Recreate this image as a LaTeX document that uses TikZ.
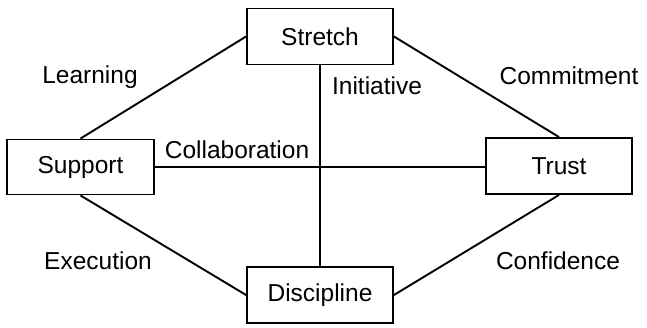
\documentclass[tikz,border=0pt]{standalone}
\usepackage{fontspec}
\setmainfont{Liberation Sans}
\begin{document}
\begin{tikzpicture}[x=1pt,y=-1pt,
  box/.style={draw, line width=1.9pt, minimum width=146pt, minimum height=56pt, inner sep=0pt, font=\fontsize{24.5}{28}\selectfont},
  lbl/.style={font=\fontsize{24.5}{28}\selectfont, inner sep=0pt},
  conn/.style={line width=1.9pt}]
\useasboundingbox (0,0) rectangle (647,327);
\node[box] (stretch) at (320,36.5) {Stretch};
\node[box, minimum width=147pt, minimum height=55pt] (support) at (80.5,167) {Support};
\node[box] (trust) at (559,166) {Trust};
\node[box] (discipline) at (320,295) {Discipline};
\draw[conn] (stretch.west) -- (support.north);
\draw[conn] (stretch.east) -- (trust.north);
\draw[conn] (support.south) -- (discipline.west);
\draw[conn] (trust.south) -- (discipline.east);
\draw[conn] (stretch.south) -- (discipline.north);
\draw[conn] (support.east) -- (trust.west |- support.east);
\node[lbl] (learning) at (90,77) {Learning};
\node[lbl] (collab) at (237,150) {Collaboration};
\node[lbl] (initiative) at (377,86) {Initiative};
\node[lbl] (commitment) at (569,76) {Commitment};
\node[lbl] (execution) at (98,261) {Execution};
\node[lbl] (confidence) at (558,261) {Confidence};
\end{tikzpicture}
\end{document}
